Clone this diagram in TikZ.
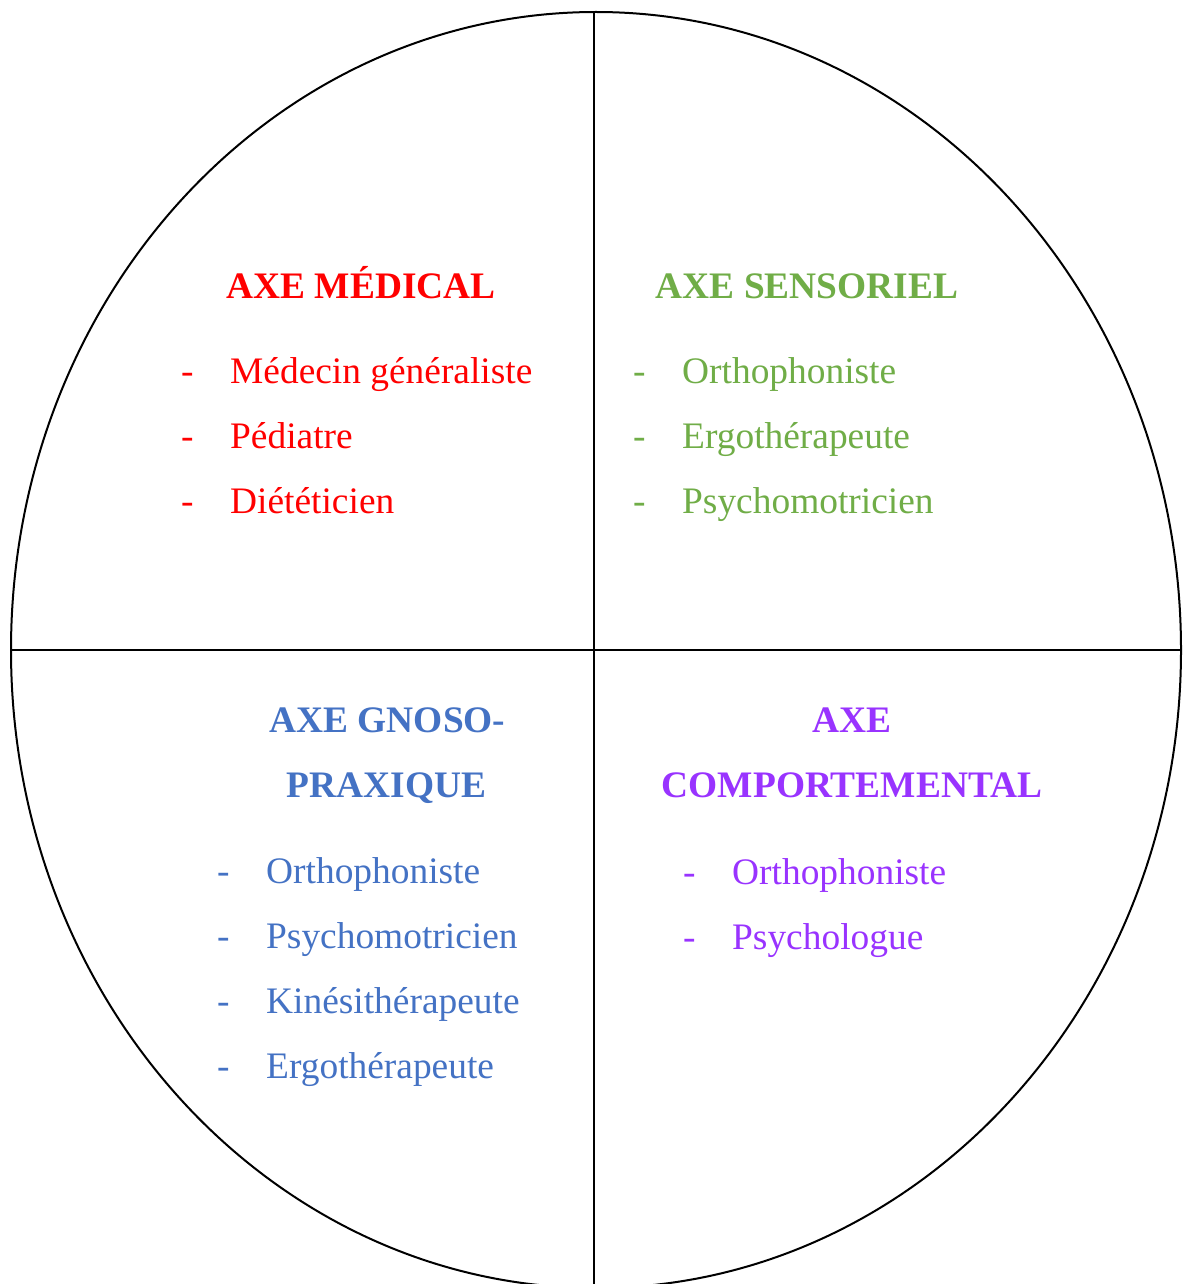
\documentclass[tikz,border=0pt]{standalone}
\usepackage{fontspec}
\setmainfont{Liberation Serif}
\definecolor{cmed}{HTML}{FF0000}
\definecolor{csen}{HTML}{70AD47}
\definecolor{cgno}{HTML}{4472C4}
\definecolor{ccomp}{HTML}{9933FF}
\tikzset{
  ttl/.style={anchor=base,inner sep=0pt,font=\fontsize{37.4}{44}\selectfont\bfseries},
  itm/.style={anchor=base west,inner sep=0pt,font=\fontsize{37.4}{44}\selectfont},
}
\newcommand{\itmtxt}[1]{\makebox[49pt][l]{-}#1}
\begin{document}
\begin{tikzpicture}[x=1pt,y=-1pt]
\useasboundingbox (0,0) rectangle (1183,1284);
\fill[white] (0,0) rectangle (1183,1284);
\draw[line width=2pt] (596,650) ellipse [x radius=585pt, y radius=638pt];
\coordinate (top) at (594,12);
\coordinate (bot) at (594,1290);
\coordinate (lft) at (11,650);
\coordinate (rgt) at (1181,650);
\draw[line width=1.3pt] (top) -- (bot);
\draw[line width=1.3pt] (lft) -- (rgt);
% Medical
\node[ttl,text=cmed] (tmed) at (361,298) {AXE MÉDICAL};
\node[itm,text=cmed] (m1) at (181,383) {\itmtxt{Médecin généraliste}};
\node[itm,text=cmed] (m2) at (181,448) {\itmtxt{Pédiatre}};
\node[itm,text=cmed] (m3) at (181,513) {\itmtxt{Diététicien}};
% Sensoriel
\node[ttl,text=csen] (tsen) at (807,298) {AXE SENSORIEL};
\node[itm,text=csen] (s1) at (633,383) {\itmtxt{Orthophoniste}};
\node[itm,text=csen] (s2) at (633,448) {\itmtxt{Ergothérapeute}};
\node[itm,text=csen] (s3) at (633,513) {\itmtxt{Psychomotricien}};
% Gnoso-praxique
\node[ttl,text=cgno] (tgno1) at (387.5,732) {AXE GNOSO-};
\node[ttl,text=cgno] (tgno2) at (386.5,797) {PRAXIQUE};
\node[itm,text=cgno] (g1) at (217,883) {\itmtxt{Orthophoniste}};
\node[itm,text=cgno] (g2) at (217,948) {\itmtxt{Psychomotricien}};
\node[itm,text=cgno] (g3) at (217,1013) {\itmtxt{Kinésithérapeute}};
\node[itm,text=cgno] (g4) at (217,1078) {\itmtxt{Ergothérapeute}};
% Comportemental
\node[ttl,text=ccomp] (tcomp1) at (852,732) {AXE};
\node[ttl,text=ccomp] (tcomp2) at (852,797) {COMPORTEMENTAL};
\node[itm,text=ccomp] (c1) at (683,884) {\itmtxt{Orthophoniste}};
\node[itm,text=ccomp] (c2) at (683,949) {\itmtxt{Psychologue}};
\end{tikzpicture}
\end{document}
